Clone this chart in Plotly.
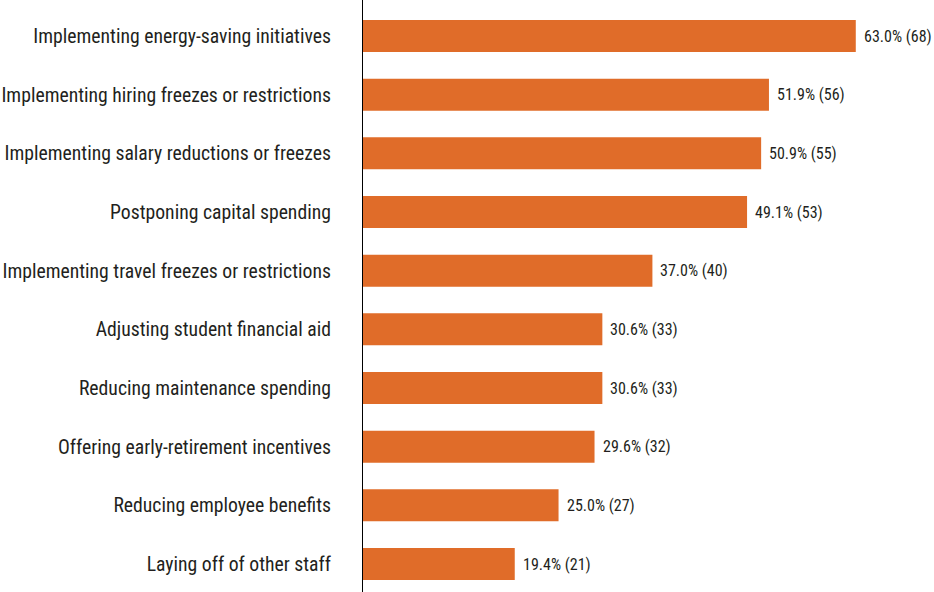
import plotly.graph_objects as go

# Budget-cutting measures, share of respondents (count in parentheses)
categories = [
    "Implementing energy-saving initiatives",
    "Implementing hiring freezes or restrictions",
    "Implementing salary reductions or freezes",
    "Postponing capital spending",
    "Implementing travel freezes or restrictions",
    "Adjusting student financial aid",
    "Reducing maintenance spending",
    "Offering early-retirement incentives",
    "Reducing employee benefits",
    "Laying off of other staff",
]
percents = [63.0, 51.9, 50.9, 49.1, 37.0, 30.6, 30.6, 29.6, 25.0, 19.4]
counts = [68, 56, 55, 53, 40, 33, 33, 32, 27, 21]

BAR_COLOR = "#E06C29"
TEXT_COLOR = "#231F20"
FONT = "Liberation Sans Narrow, Roboto Condensed, Arial Narrow, sans-serif"

fig = go.Figure(
    go.Bar(
        x=percents,
        y=categories,
        orientation="h",
        marker=dict(color=BAR_COLOR, line=dict(width=0)),
        width=0.545,
        hoverinfo="skip",
    )
)

# Value labels placed just past the end of each bar
for cat, pct, n in zip(categories, percents, counts):
    fig.add_annotation(
        x=pct,
        y=cat,
        text=f"{pct:.1f}% ({n})",
        showarrow=False,
        xanchor="left",
        yanchor="middle",
        xshift=6,
        font=dict(family=FONT, size=16, color=TEXT_COLOR),
    )

fig.update_layout(
    width=934,
    height=592,
    margin=dict(l=363, r=0, t=0, b=0),
    paper_bgcolor="white",
    plot_bgcolor="white",
    showlegend=False,
    font=dict(family=FONT, color=TEXT_COLOR),
)
fig.update_xaxes(
    range=[0, 73],
    visible=False,
    showgrid=False,
    zeroline=False,
)
fig.update_yaxes(
    categoryorder="array",
    categoryarray=categories,
    autorange=False,
    range=[9.477, -0.614],
    showgrid=False,
    zeroline=False,
    showline=True,
    linecolor="black",
    linewidth=1.2,
    ticks="",
    ticklabelstandoff=27,
    tickfont=dict(family=FONT, size=19.7, color=TEXT_COLOR),
)

fig.write_html("out.html")
